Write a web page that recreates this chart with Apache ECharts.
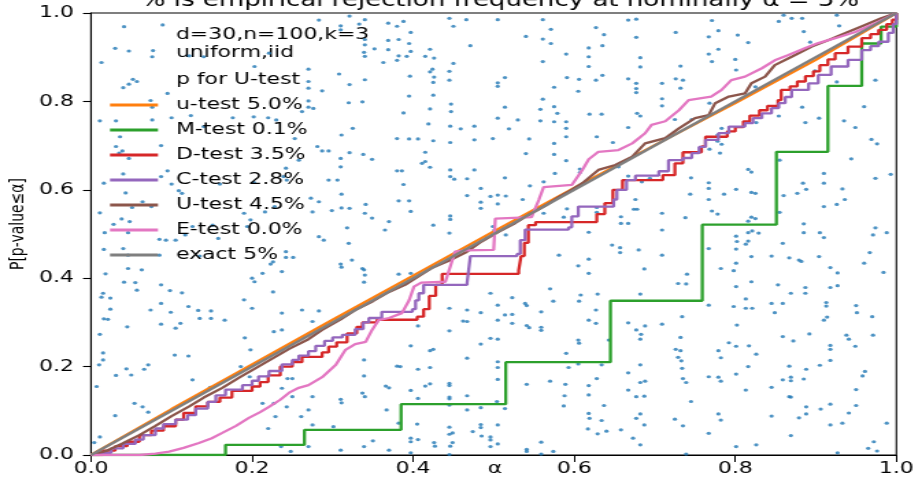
<!DOCTYPE html>
<html>
<head>
<meta charset="utf-8">
<script src="https://cdn.jsdelivr.net/npm/echarts@6/dist/echarts.min.js"></script>
<style>
  html, body { margin: 0; padding: 0; background: #fff; overflow: hidden; width: 918px; height: 483px; }
  /* the reference figure is horizontally stretched, so draw narrower and stretch */
  #chart { height: 483px; transform-origin: 0 0; }
</style>
</head>
<body>
<div id="chart"></div>
<script>
// tick values
const xTicks = [0, 0.2, 0.4, 0.6, 0.8, 1.0]
const yTicks = [0, 0.2, 0.4, 0.6, 0.8, 1.0]

// p-values for U-test (alpha, p)
const pForU = [
  [0.321,0.993],[0.340,0.985],[0.333,0.975],[0.310,0.971],[0.310,0.962],[0.369,0.977],[0.380,0.970],[0.388,0.981],
  [0.397,0.956],[0.369,0.938],[0.382,0.940],[0.395,0.931],[0.340,0.940],[0.340,0.928],[0.352,0.919],[0.369,0.917],
  [0.339,0.911],[0.340,0.902],[0.382,0.903],[0.392,0.902],[0.397,0.913],[0.380,0.893],[0.363,0.888],[0.415,0.902],
  [0.421,0.918],[0.426,0.898],[0.445,0.988],[0.450,0.970],[0.466,0.985],[0.471,0.926],[0.450,0.886],[0.424,0.873],
  [0.421,0.867],[0.445,0.868],[0.426,0.855],[0.425,0.843],[0.445,0.848],[0.308,0.862],[0.321,0.838],[0.340,0.849],
  [0.396,0.857],[0.395,0.812],[0.425,0.814],[0.505,0.985],[0.561,0.985],[0.571,0.963],[0.540,0.947],[0.561,0.941],
  [0.571,0.931],[0.590,0.907],[0.561,0.890],[0.618,0.921],[0.618,0.901],[0.635,0.926],[0.627,0.967],[0.637,0.951],
  [0.667,0.984],[0.677,0.986],[0.677,0.945],[0.682,0.899],[0.682,0.878],[0.618,0.879],[0.635,0.859],[0.627,0.848],
  [0.606,0.850],[0.591,0.854],[0.667,0.851],[0.677,0.841],[0.677,0.829],[0.677,0.820],[0.726,0.956],[0.726,0.851],
  [0.709,0.841],[0.514,0.854],[0.505,0.842],[0.505,0.834],[0.575,0.832],[0.605,0.823],[0.561,0.805],[0.709,0.806],
  [0.320,0.797],[0.337,0.799],[0.311,0.724],[0.325,0.739],[0.295,0.688],[0.310,0.671],[0.310,0.652],[0.321,0.684],
  [0.338,0.680],[0.349,0.669],[0.295,0.622],[0.306,0.622],[0.311,0.590],[0.311,0.559],[0.321,0.558],[0.299,0.553],
  [0.341,0.567],[0.340,0.547],[0.349,0.536],[0.318,0.514],[0.320,0.479],[0.388,0.774],[0.380,0.716],[0.395,0.715],
  [0.406,0.715],[0.425,0.711],[0.419,0.749],[0.421,0.783],[0.447,0.794],[0.447,0.777],[0.446,0.744],[0.446,0.707],
  [0.459,0.738],[0.476,0.744],[0.476,0.713],[0.499,0.716],[0.505,0.762],[0.514,0.787],[0.519,0.738],[0.530,0.758],
  [0.544,0.715],[0.558,0.782],[0.558,0.756],[0.575,0.788],[0.579,0.773],[0.575,0.754],[0.590,0.754],[0.590,0.739],
  [0.590,0.720],[0.575,0.705],[0.575,0.680],[0.590,0.666],[0.619,0.771],[0.634,0.771],[0.628,0.720],[0.648,0.707],
  [0.667,0.741],[0.678,0.773],[0.682,0.767],[0.709,0.790],[0.725,0.759],[0.540,0.682],[0.415,0.685],[0.415,0.664],
  [0.411,0.660],[0.421,0.651],[0.380,0.643],[0.386,0.643],[0.446,0.645],[0.446,0.630],[0.451,0.624],[0.467,0.625],
  [0.476,0.645],[0.514,0.627],[0.484,0.603],[0.467,0.587],[0.496,0.585],[0.505,0.588],[0.515,0.586],[0.505,0.568],
  [0.484,0.572],[0.484,0.558],[0.536,0.578],[0.545,0.609],[0.562,0.618],[0.576,0.637],[0.607,0.647],[0.607,0.639],
  [0.655,0.652],[0.667,0.631],[0.684,0.618],[0.694,0.626],[0.676,0.578],[0.388,0.612],[0.395,0.575],[0.382,0.575],
  [0.397,0.551],[0.370,0.528],[0.365,0.509],[0.425,0.520],[0.446,0.541],[0.446,0.533],[0.445,0.502],[0.499,0.517],
  [0.501,0.509],[0.515,0.498],[0.562,0.547],[0.587,0.538],[0.591,0.557],[0.618,0.504],[0.628,0.549],[0.628,0.560],
  [0.658,0.539],[0.658,0.524],[0.667,0.524],[0.674,0.556],[0.678,0.556],[0.709,0.547],[0.709,0.509],[0.647,0.475],
  [0.657,0.469],
  [0.041,0.969],[0.089,0.973],[0.283,0.984],[0.030,0.920],[0.047,0.914],[0.077,0.915],[0.076,0.901],[0.013,0.888],
  [0.122,0.903],[0.140,0.901],[0.203,0.879],[0.221,0.909],[0.270,0.873],[0.052,0.850],[0.057,0.845],[0.040,0.831],
  [0.047,0.839],[0.095,0.818],[0.074,0.802],[0.076,0.787],[0.011,0.756],[0.031,0.756],[0.076,0.758],[0.100,0.763],
  [0.124,0.768],[0.140,0.743],[0.176,0.763],[0.202,0.765],[0.220,0.763],[0.230,0.758],[0.262,0.777],[0.270,0.845],
  [0.270,0.830],[0.287,0.824],[0.270,0.801],[0.270,0.787],[0.276,0.784],[0.036,0.720],[0.087,0.700],[0.031,0.698],
  [0.039,0.688],[0.047,0.671],[0.035,0.683],[0.095,0.643],[0.087,0.630],[0.016,0.615],[0.040,0.636],[0.043,0.593],
  [0.100,0.613],[0.109,0.598],[0.113,0.592],[0.160,0.613],[0.202,0.617],[0.239,0.630],[0.243,0.622],[0.258,0.667],
  [0.281,0.698],[0.287,0.688],[0.253,0.716],[0.242,0.649],[0.273,0.581],[0.283,0.573],[0.275,0.550],[0.228,0.562],
  [0.216,0.550],[0.198,0.532],[0.194,0.517],[0.190,0.547],[0.151,0.520],[0.158,0.490],[0.126,0.517],[0.117,0.498],
  [0.105,0.486],[0.093,0.486],[0.064,0.573],[0.051,0.560],[0.075,0.562],[0.011,0.548],[0.017,0.503],[0.046,0.503],
  [0.038,0.534],[0.048,0.528],[0.028,0.522],[0.016,0.465],[0.040,0.467],[0.085,0.488],[0.289,0.486],[0.283,0.494],
  [0.046,0.452],[0.085,0.452],[0.135,0.450],[0.242,0.460],[0.242,0.447],[0.251,0.447],[0.223,0.432],[0.226,0.437],
  [0.200,0.400],[0.203,0.392],[0.213,0.411],[0.226,0.369],[0.237,0.415],[0.310,0.432],[0.311,0.425],[0.324,0.441],
  [0.337,0.422],[0.339,0.419],[0.340,0.407],[0.339,0.391],[0.382,0.409],[0.018,0.410],[0.046,0.422],[0.063,0.419],
  [0.041,0.391],[0.055,0.390],[0.057,0.373],[0.015,0.366],[0.013,0.357],[0.024,0.355],[0.087,0.385],[0.098,0.372],
  [0.113,0.367],[0.121,0.336],[0.133,0.327],[0.149,0.326],[0.149,0.309],[0.135,0.309],[0.166,0.305],[0.087,0.343],
  [0.099,0.323],[0.074,0.328],[0.111,0.298],[0.105,0.287],[0.087,0.296],[0.045,0.290],[0.016,0.308],[0.021,0.307],
  [0.024,0.330],[0.011,0.273],[0.015,0.231],[0.015,0.215],[0.010,0.204],[0.104,0.226],[0.121,0.224],[0.190,0.351],
  [0.191,0.265],[0.198,0.238],[0.200,0.332],[0.227,0.279],[0.237,0.283],[0.237,0.321],[0.262,0.328],[0.283,0.326],
  [0.275,0.302],[0.071,0.204],[0.066,0.194],[0.044,0.195],[0.050,0.181],[0.031,0.180],[0.007,0.155],[0.054,0.117],
  [0.064,0.109],[0.071,0.097],[0.030,0.089],[0.011,0.041],[0.004,0.028],[0.126,0.170],[0.148,0.153],[0.186,0.200],
  [0.197,0.177],[0.244,0.173],[0.250,0.173],[0.237,0.151],[0.250,0.132],[0.227,0.117],[0.213,0.117],[0.229,0.087],
  [0.243,0.109],[0.261,0.087],[0.275,0.132],[0.270,0.102],[0.275,0.068],[0.301,0.064],[0.310,0.126],[0.311,0.118],
  [0.337,0.140],[0.340,0.132],[0.339,0.179],[0.339,0.215],[0.366,0.156],[0.370,0.152],[0.380,0.201],[0.367,0.102],
  [0.370,0.011],[0.350,0.032],[0.339,0.019],[0.310,0.011],[0.270,0.019],[0.248,0.008],[0.236,0.019],[0.220,0.060],
  [0.581,0.452],[0.605,0.428],[0.618,0.443],[0.618,0.411],[0.657,0.458],[0.680,0.464],[0.709,0.452],[0.687,0.421],
  [0.682,0.364],[0.729,0.388],[0.570,0.376],[0.574,0.348],[0.608,0.362],[0.606,0.348],[0.629,0.364],[0.496,0.366],
  [0.523,0.356],[0.539,0.343],[0.541,0.338],[0.559,0.324],[0.397,0.411],[0.445,0.332],[0.467,0.328],[0.484,0.322],
  [0.505,0.339],[0.514,0.317],[0.523,0.318],[0.462,0.303],[0.467,0.302],[0.505,0.305],[0.523,0.298],[0.541,0.293],
  [0.544,0.288],[0.559,0.289],[0.559,0.282],[0.445,0.281],[0.406,0.292],[0.397,0.247],[0.421,0.236],[0.425,0.239],
  [0.406,0.194],[0.421,0.198],[0.467,0.219],[0.484,0.251],[0.496,0.264],[0.505,0.262],[0.505,0.211],[0.505,0.198],
  [0.505,0.171],[0.504,0.121],[0.514,0.105],[0.484,0.107],[0.467,0.102],[0.467,0.134],[0.445,0.162],[0.445,0.157],
  [0.445,0.131],[0.445,0.127],[0.445,0.113],[0.421,0.161],[0.415,0.156],[0.397,0.146],[0.406,0.128],[0.384,0.200],
  [0.382,0.072],[0.405,0.070],[0.397,0.038],[0.397,0.030],[0.406,0.035],[0.426,0.028],[0.427,0.020],[0.445,0.063],
  [0.445,0.047],[0.449,0.050],[0.449,0.028],[0.446,0.020],[0.445,0.001],[0.474,0.053],[0.484,0.069],[0.484,0.062],
  [0.485,0.043],[0.496,0.041],[0.496,0.034],[0.496,0.019],[0.505,0.068],[0.505,0.025],[0.541,0.160],[0.570,0.167],
  [0.589,0.160],[0.618,0.157],[0.618,0.136],[0.588,0.134],[0.587,0.111],[0.593,0.198],[0.605,0.206],[0.634,0.204],
  [0.628,0.173],[0.605,0.260],[0.606,0.253],[0.590,0.230],[0.618,0.305],[0.627,0.298],[0.627,0.328],[0.643,0.260],
  [0.667,0.299],[0.677,0.283],[0.683,0.273],[0.682,0.262],[0.688,0.292],[0.709,0.296],[0.726,0.239],[0.729,0.221],
  [0.682,0.204],[0.667,0.186],[0.682,0.164],[0.688,0.167],[0.667,0.147],[0.677,0.132],[0.687,0.133],[0.637,0.112],
  [0.618,0.094],[0.619,0.083],[0.634,0.078],[0.617,0.059],[0.629,0.048],[0.640,0.054],[0.658,0.057],[0.673,0.038],
  [0.682,0.093],[0.677,0.083],[0.687,0.068],[0.682,0.023],[0.725,0.081],[0.574,0.008],[0.541,0.013],[0.541,0.008],
  [0.559,0.029],[0.559,0.002],[0.397,0.005],
  [0.801,0.495],[0.816,0.503],[0.821,0.507],[0.829,0.502],[0.802,0.483],[0.816,0.484],[0.813,0.477],[0.801,0.466],
  [0.859,0.479],[0.885,0.503],[0.905,0.503],[0.910,0.492],[0.971,0.498],[0.988,0.503],[0.967,0.458],[0.960,0.434],
  [0.984,0.413],[0.767,0.467],[0.782,0.422],[0.798,0.417],[0.801,0.434],[0.820,0.449],[0.845,0.450],[0.867,0.446],
  [0.879,0.441],[0.882,0.438],[0.904,0.449],[0.918,0.424],[0.927,0.412],[0.820,0.392],[0.853,0.385],[0.801,0.381],
  [0.887,0.379],[0.887,0.366],[0.869,0.366],[0.918,0.379],[0.927,0.383],[0.767,0.339],[0.798,0.336],[0.813,0.353],
  [0.813,0.332],[0.821,0.332],[0.845,0.343],[0.859,0.343],[0.849,0.322],[0.913,0.345],[0.913,0.337],[0.914,0.312],
  [0.910,0.305],[0.950,0.338],[0.951,0.322],[0.970,0.313],[0.802,0.294],[0.859,0.268],[0.872,0.258],[0.892,0.274],
  [0.938,0.271],[0.941,0.262],[0.949,0.246],[0.971,0.271],[0.918,0.248],[0.918,0.239],[0.792,0.254],[0.801,0.246],
  [0.817,0.247],[0.779,0.236],[0.782,0.220],[0.826,0.228],[0.816,0.200],[0.867,0.201],[0.888,0.194],[0.905,0.203],
  [0.918,0.214],[0.801,0.183],[0.767,0.177],[0.779,0.176],[0.782,0.167],[0.813,0.147],[0.845,0.153],[0.859,0.170],
  [0.869,0.176],[0.869,0.168],[0.885,0.172],[0.961,0.189],[0.958,0.179],[0.950,0.148],[0.950,0.112],[0.918,0.115],
  [0.941,0.095],[0.933,0.072],[0.906,0.104],[0.888,0.109],[0.888,0.093],[0.879,0.084],[0.867,0.132],[0.869,0.131],
  [0.845,0.088],[0.779,0.093],[0.782,0.079],[0.767,0.049],[0.869,0.044],[0.918,0.068],[0.988,0.072],[0.801,0.019],
  [0.826,0.023],[0.927,0.005],[0.965,0.015],[0.972,0.030],[0.976,0.009],[0.734,0.313],[0.732,0.266],[0.732,0.236],
  [0.733,0.213],[0.734,0.196],[0.735,0.173],[0.739,0.164],[0.745,0.121],[0.735,0.066],[0.739,0.002],[0.740,0.409],
  [0.739,0.387],
  [0.771,0.983],[0.779,0.960],[0.803,0.950],[0.816,0.933],[0.767,0.946],[0.779,0.918],[0.767,0.907],[0.771,0.890],
  [0.800,0.895],[0.801,0.871],[0.854,0.981],[0.860,0.995],[0.870,0.988],[0.883,0.988],[0.885,0.958],[0.926,0.995],
  [0.929,0.971],[0.893,0.934],[0.899,0.869],[0.883,0.787],[0.904,0.762],[0.887,0.752],[0.926,0.844],[0.974,0.848],
  [0.960,0.788],[0.935,0.756],[0.949,0.741],[0.969,0.714],[0.976,0.704],[0.944,0.670],[0.910,0.637],[0.910,0.615],
  [0.884,0.615],[0.888,0.601],[0.877,0.592],[0.974,0.626],[0.993,0.635],[0.933,0.602],[0.936,0.578],[0.926,0.567],
  [0.910,0.562],[0.885,0.523],[0.974,0.514],[0.732,0.880],[0.735,0.848],[0.732,0.830],[0.745,0.627],[0.767,0.616],
  [0.767,0.603],[0.767,0.578],[0.744,0.590],[0.786,0.590],[0.801,0.601],[0.820,0.594],[0.825,0.592],[0.738,0.537],
  [0.771,0.552],[0.778,0.545],[0.820,0.538],[0.825,0.535],[0.816,0.529],[0.855,0.549],[0.860,0.587],[0.855,0.667],
  [0.816,0.646],[0.820,0.640],[0.783,0.703],[0.778,0.710],[0.781,0.683],[0.768,0.692],[0.778,0.724],[0.783,0.739],
  [0.746,0.759],[0.854,0.767],[0.826,0.752],[0.825,0.833],[0.768,0.796]
]

// empirical distribution curves (alpha, P[p-value <= alpha])
const uTestLower = [[0,0],[0.1,0.104],[0.2,0.205],[0.3,0.306],[0.4,0.406],[0.5,0.506],[0.6,0.604],[0.7,0.701],[0.8,0.796],[0.9,0.894],[1,1]]
const mTest = [[0,0],[0.167,0.023],[0.265,0.057],[0.385,0.115],[0.515,0.21],[0.645,0.349],[0.759,0.521],[0.851,0.686],[0.915,0.835],[0.957,0.931],[0.981,0.969],[1,1]]
const dTest = [[0,0],[0.015,0.01],[0.03,0.02],[0.045,0.03],[0.06,0.045],[0.075,0.055],[0.09,0.065],[0.105,0.08],[0.115,0.095],
  [0.13,0.11],[0.145,0.12],[0.16,0.13],[0.175,0.145],[0.2,0.155],[0.21,0.165],[0.22,0.18],[0.235,0.2],[0.25,0.21],[0.262,0.222],
  [0.287,0.232],[0.295,0.245],[0.305,0.255],[0.318,0.275],[0.33,0.29],[0.337,0.3],[0.355,0.306],[0.405,0.313],[0.413,0.33],
  [0.42,0.36],[0.428,0.385],[0.436,0.41],[0.531,0.418],[0.534,0.45],[0.538,0.48],[0.543,0.52],[0.552,0.527],[0.628,0.545],
  [0.638,0.57],[0.648,0.6],[0.66,0.622],[0.71,0.633],[0.725,0.66],[0.735,0.685],[0.758,0.698],[0.763,0.72],[0.79,0.732],
  [0.8,0.742],[0.81,0.755],[0.818,0.768],[0.83,0.78],[0.84,0.79],[0.853,0.803],[0.857,0.826],[0.868,0.834],[0.877,0.845],
  [0.887,0.857],[0.897,0.868],[0.905,0.882],[0.915,0.895],[0.924,0.909],[0.94,0.924],[0.957,0.943],[0.968,0.952],
  [0.978,0.962],[0.988,0.975],[0.995,0.985],[1,1]]
const cTest = [[0,0],[0.01,0.005],[0.025,0.015],[0.04,0.025],[0.055,0.035],[0.065,0.045],[0.08,0.06],[0.09,0.07],[0.105,0.08],
  [0.12,0.09],[0.13,0.105],[0.145,0.12],[0.155,0.135],[0.167,0.148],[0.188,0.158],[0.2,0.168],[0.208,0.178],[0.221,0.19],
  [0.237,0.205],[0.25,0.215],[0.258,0.225],[0.27,0.235],[0.279,0.247],[0.29,0.258],[0.3,0.266],[0.312,0.272],[0.328,0.285],
  [0.338,0.3],[0.345,0.31],[0.361,0.324],[0.399,0.33],[0.403,0.35],[0.407,0.366],[0.413,0.385],[0.467,0.39],[0.469,0.42],
  [0.471,0.45],[0.529,0.455],[0.533,0.486],[0.539,0.51],[0.593,0.515],[0.597,0.54],[0.605,0.562],[0.649,0.578],[0.653,0.6],
  [0.665,0.622],[0.676,0.632],[0.705,0.642],[0.717,0.667],[0.735,0.672],[0.746,0.683],[0.755,0.697],[0.763,0.713],
  [0.779,0.728],[0.792,0.743],[0.812,0.751],[0.822,0.762],[0.833,0.773],[0.845,0.785],[0.854,0.796],[0.862,0.81],
  [0.87,0.826],[0.891,0.841],[0.903,0.86],[0.919,0.879],[0.94,0.894],[0.957,0.916],[0.968,0.925],[0.978,0.935],
  [0.99,0.955],[0.996,0.975],[1,1]]
const uTest = [[0,0],[0.02,0.01],[0.039,0.026],[0.06,0.045],[0.08,0.066],[0.1,0.088],[0.122,0.11],[0.14,0.13],[0.163,0.152],
  [0.185,0.176],[0.204,0.196],[0.225,0.218],[0.246,0.24],[0.27,0.262],[0.287,0.283],[0.31,0.307],[0.328,0.328],[0.35,0.348],
  [0.37,0.369],[0.39,0.385],[0.41,0.408],[0.423,0.423],[0.445,0.44],[0.465,0.458],[0.485,0.483],[0.506,0.505],[0.527,0.525],
  [0.547,0.547],[0.565,0.565],[0.581,0.584],[0.595,0.598],[0.61,0.615],[0.63,0.645],[0.651,0.656],[0.672,0.675],[0.688,0.705],
  [0.713,0.717],[0.73,0.739],[0.75,0.762],[0.767,0.769],[0.775,0.796],[0.792,0.811],[0.812,0.818],[0.82,0.841],[0.837,0.856],
  [0.849,0.882],[0.87,0.901],[0.895,0.924],[0.916,0.939],[0.936,0.954],[0.961,0.973],[0.981,0.988],[1,1]]
const eTest = [[0,0],[0.06,0],[0.08,0.003],[0.097,0.0075],[0.115,0.016],[0.134,0.027],[0.15,0.038],[0.163,0.05],[0.18,0.066],
  [0.196,0.084],[0.21,0.097],[0.221,0.109],[0.235,0.125],[0.246,0.141],[0.258,0.152],[0.27,0.158],[0.287,0.176],[0.304,0.204],
  [0.316,0.238],[0.328,0.251],[0.341,0.256],[0.349,0.283],[0.357,0.305],[0.37,0.31],[0.386,0.321],[0.395,0.35],[0.401,0.381],
  [0.41,0.39],[0.44,0.392],[0.446,0.426],[0.452,0.46],[0.465,0.463],[0.5,0.464],[0.502,0.535],[0.547,0.538],[0.556,0.577],
  [0.562,0.606],[0.597,0.611],[0.61,0.645],[0.618,0.669],[0.63,0.686],[0.655,0.69],[0.672,0.705],[0.688,0.728],[0.696,0.747],
  [0.713,0.755],[0.73,0.78],[0.742,0.803],[0.77,0.811],[0.783,0.826],[0.795,0.848],[0.812,0.856],[0.833,0.875],[0.849,0.893],
  [0.866,0.905],[0.887,0.921],[0.903,0.932],[0.924,0.943],[0.949,0.957],[0.974,0.977],[1,1]]
const exact = [[0,0],[1,1]]

const FONT = 'DejaVu Sans'
const S = 1.37 // horizontal stretch of the reference figure
const W = 918 / S
const el = document.getElementById('chart')
el.style.width = W + 'px'
el.style.transform = 'scaleX(' + S + ')'

const seriesDefs = [
  { name: 'u-test 5.0%', data: uTestLower, color: '#ff7f0e' },
  { name: 'M-test 0.1%', data: mTest, color: '#2ca02c', step: 'end' },
  { name: 'D-test 3.5%', data: dTest, color: '#d62728', step: 'end' },
  { name: 'C-test 2.8%', data: cTest, color: '#9467bd', step: 'end' },
  { name: 'U-test 4.5%', data: uTest, color: '#8c564b' },
  { name: 'E-test 0.0%', data: eTest, color: '#e377c2' },
  { name: 'exact 5%', data: exact, color: '#7f7f7f' },
]

const chart = echarts.init(el)
chart.setOption({
  animation: false,
  textStyle: { fontFamily: FONT },
  grid: {
    left: 91 / S, right: 19 / S, top: 13, bottom: 28,
    show: true, borderColor: '#000', borderWidth: 1.1,
  },
  xAxis: {
    type: 'value', min: 0, max: 1, interval: 0.2,
    axisLine: { lineStyle: { color: '#000', width: 1.1 } },
    axisTick: { length: 7, lineStyle: { color: '#000', width: 1 } },
    axisLabel: { color: '#000', fontSize: 16, margin: 6, formatter: v => v.toFixed(1) },
    splitLine: { show: false },
  },
  yAxis: {
    type: 'value', min: 0, max: 1, interval: 0.2,
    axisLine: { show: true, lineStyle: { color: '#000', width: 1.1 } },
    axisTick: { show: true, length: 8 / S, lineStyle: { color: '#000', width: 1.1 } },
    axisLabel: { color: '#000', fontSize: 16, margin: 17 / S, formatter: v => v.toFixed(1) },
    splitLine: { show: false },
  },
  legend: {
    left: 110 / S, top: 72, orient: 'vertical', padding: 0,
    itemWidth: 48 / S, itemHeight: 3, itemGap: 9, icon: 'rect',
    textStyle: { fontSize: 16, lineHeight: 16, color: '#000', fontFamily: FONT, padding: [0, 0, 0, 176 / S - 110 / S - 48 / S - 5] },
    data: [{ name: 'p for U-test', itemStyle: { opacity: 0 } }].concat(seriesDefs.map(s => s.name)),
  },
  graphic: [
    { type: 'text', x: 500 / S, y: -8, style: { text: '% is empirical rejection frequency at nominally α = 5%', font: '19px "DejaVu Sans"', fill: '#000', textAlign: 'center', textVerticalAlign: 'top' } },
    { type: 'text', x: 176 / S, y: 35, style: { text: 'd=30,n=100,k=3', font: '16px "DejaVu Sans"', fill: '#000', textVerticalAlign: 'middle' } },
    { type: 'text', x: 176 / S, y: 53, style: { text: 'uniform,iid', font: '16px "DejaVu Sans"', fill: '#000', textVerticalAlign: 'middle' } },
    { type: 'text', x: 18 / S, y: 224, rotation: Math.PI / 2, style: { text: 'P[p-value≤α]', font: '14px "DejaVu Sans"', fill: '#000', textAlign: 'center', textVerticalAlign: 'middle' } },
    { type: 'text', x: 495 / S, y: 469, style: { text: 'α', font: '16px "DejaVu Sans"', fill: '#000', textAlign: 'center', textVerticalAlign: 'middle' } },
  ],
  series: [
    {
      name: 'p for U-test', type: 'scatter', data: pForU, symbolSize: 3.2,
      itemStyle: { color: '#1f77b4' }, silent: true,
    },
  ].concat(seriesDefs.map(s => ({
    name: s.name, type: 'line', data: s.data, step: s.step || false,
    symbol: 'none', color: s.color,
    lineStyle: { color: s.color, width: 2.3 },
  }))),
})
</script>
</body>
</html>
